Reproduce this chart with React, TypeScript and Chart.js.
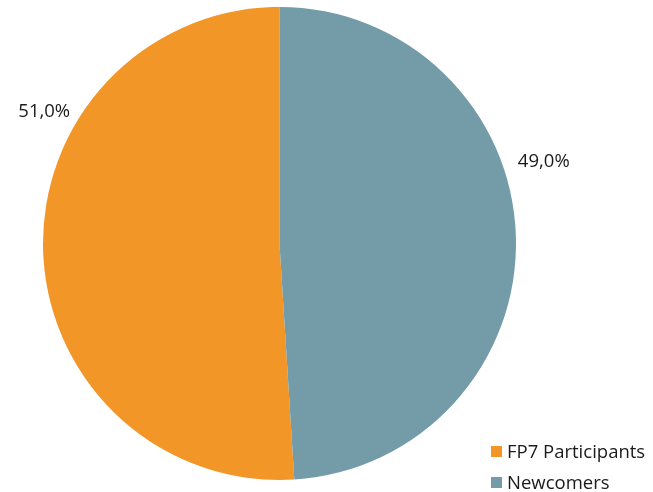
import React, { useEffect, useRef } from "react";
import { Chart, registerables } from "chart.js";

Chart.register(...registerables);

const categories = ["FP7 Participants", "Newcomers"];
const shares = [51.0, 49.0];
const colors = ["#F39628", "#739BA8"];

const FONT = "'Open Sans', sans-serif";

const outsideLabels = {
  id: "outsideLabels",
  afterDatasetsDraw(chart: any, _args: any, opts: any) {
    const ctx = chart.ctx;
    const meta = chart.getDatasetMeta(0);
    ctx.save();
    ctx.font = `${opts.size}px ${FONT}`;
    ctx.fillStyle = "#1a1a1a";
    ctx.textAlign = "center";
    ctx.textBaseline = "middle";
    meta.data.forEach((arc: any, i: number) => {
      const { x, y, outerRadius } = arc.getProps(["x", "y", "outerRadius"], true);
      const ang = (opts.angles[i] * Math.PI) / 180;
      const r = outerRadius + opts.offsets[i];
      const v = chart.data.datasets[0].data[i] as number;
      ctx.fillText(v.toFixed(1).replace(".", ",") + "%", x + Math.cos(ang) * r, y + Math.sin(ang) * r);
    });
    ctx.restore();
  },
};

const cornerLegend = {
  id: "cornerLegend",
  afterDraw(chart: any, _args: any, opts: any) {
    const ctx = chart.ctx;
    ctx.save();
    ctx.font = `${opts.size}px ${FONT}`;
    ctx.textBaseline = "middle";
    ctx.textAlign = "left";
    const labels = chart.data.labels as string[];
    labels.forEach((lab, i) => {
      const cy = opts.top + i * opts.gap;
      ctx.fillStyle = (chart.data.datasets[0].backgroundColor as string[])[i];
      ctx.fillRect(opts.left, cy - opts.box / 2, opts.box, opts.box);
      ctx.fillStyle = "#1a1a1a";
      ctx.fillText(lab, opts.left + opts.box + 5, cy + 1);
    });
    ctx.restore();
  },
};

export default function App() {
  const ref = useRef<HTMLCanvasElement | null>(null);
  useEffect(() => {
    if (!ref.current) return;
    const chart = new Chart(ref.current, {
      type: "pie",
      data: {
        labels: categories,
        datasets: [
          {
            data: shares,
            backgroundColor: colors,
            borderWidth: 0,
          },
        ],
      },
      options: {
        animation: false,
        responsive: false,
        rotation: 176.4,
        layout: { padding: { left: 43, right: 137, top: 7, bottom: 12 } },
        plugins: {
          legend: { display: false },
          tooltip: { enabled: false },
          outsideLabels: { size: 18.5, angles: [-150.8, -17.1], offsets: [33, 40] },
          cornerLegend: { size: 18.5, left: 491, top: 451.5, gap: 31, box: 11 },
        } as any,
      },
      plugins: [outsideLabels, cornerLegend],
    });
    return () => chart.destroy();
  }, []);
  return (
    <div style={{ position: "fixed", left: 0, top: 0, width: 653, height: 492, background: "#fff" }}>
      <canvas ref={ref} width={653} height={492} />
    </div>
  );
}
